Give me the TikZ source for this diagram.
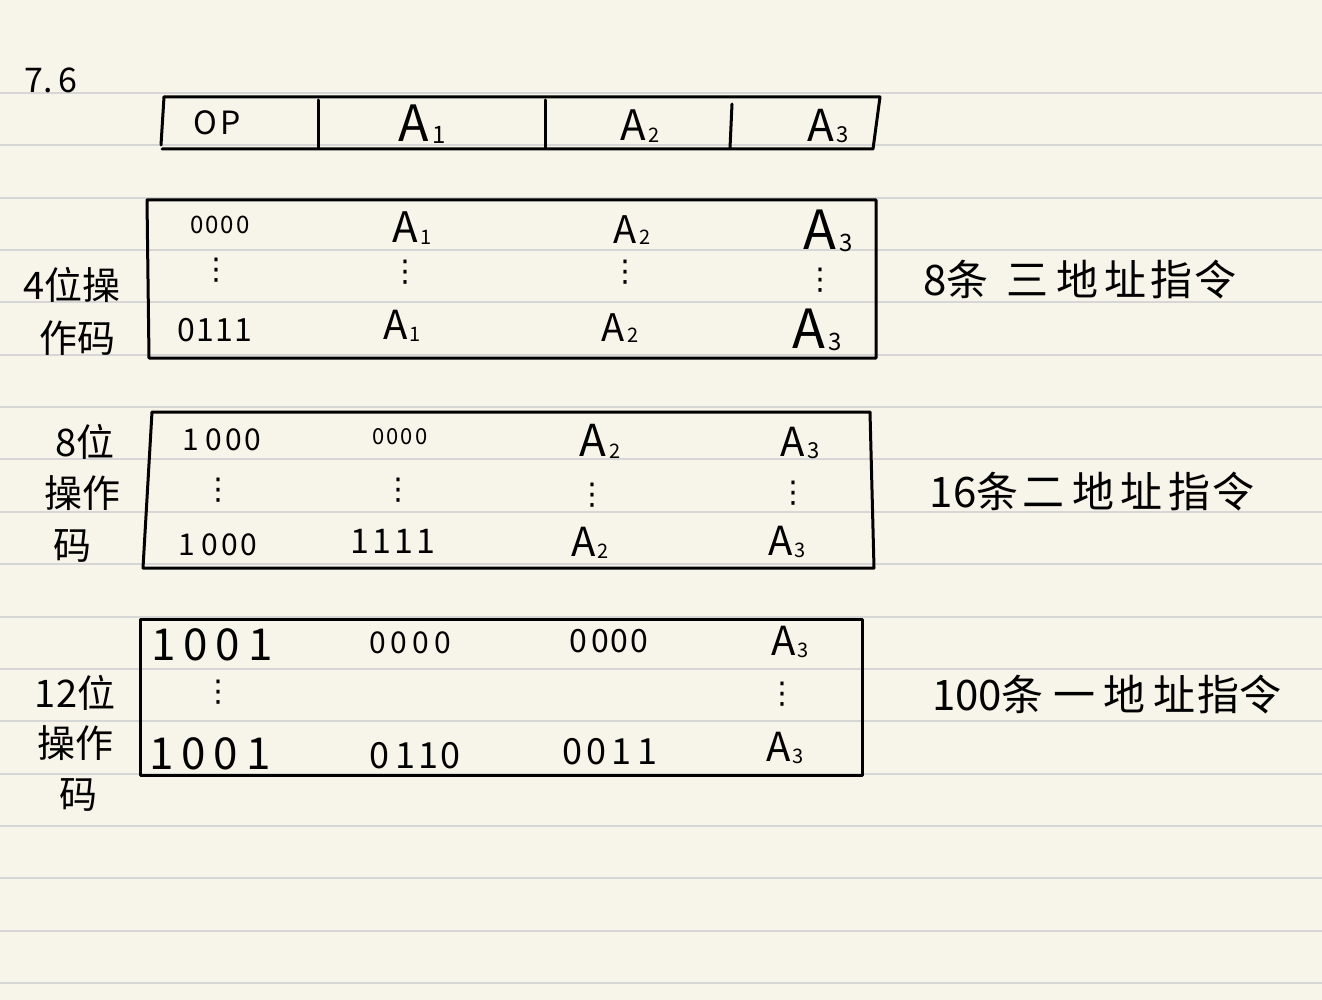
\documentclass[tikz,border=0pt]{standalone}
\usepackage{fontspec}
\setmainfont{Noto Sans CJK SC}
\newfontfamily\dvfont{DejaVu Sans}
\newcommand\fs[1]{\fontsize{#1}{#1}\selectfont}
\newcommand\Ab[3]{{\fs{#1}A\kern0.06em\raisebox{-0.04em}{\fs{#2}#3}}}
\definecolor{paper}{RGB}{247,245,234}
\definecolor{rule}{RGB}{214,214,214}
\tikzset{
  ink/.style={line width=3pt, line join=round, line cap=round, black},
  tx/.style={inner sep=0pt, anchor=center, text=black},
  vd/.style={tx, font=\dvfont\fs{30}},
  lab/.style={tx, font=\fs{38}},
  note/.style={tx, font=\fs{42}},
}
\begin{document}
\begin{tikzpicture}[x=1pt,y=-1pt]
\useasboundingbox (0,0) rectangle (1322,1000);
\fill[paper] (0,0) rectangle (1322,1000);
% ruled lines
\foreach \k in {0,...,17} {
  \draw[rule, line width=2pt] (0,{93+52.35*\k}) -- (1322,{93+52.35*\k});
}
% title
\node[tx, font=\fs{34}] (title) at (51,80) {7.\kern6pt 6};

% format box
\draw[ink] (164,97) -- (880,97) -- (873,149) -- (162,149);
\draw[ink] (164,97) -- (161,145);
\draw[ink] (318,100) -- (318,148);
\draw[ink] (545,100) -- (545,148);
\draw[ink] (732,104) -- (730,148);
\node[tx, font=\fs{32}] (fop) at (217,123) {O\kern4pt P};
\node[tx] (fa1) at (422,124) {\Ab{50}{24}{1}};
\node[tx] (fa2) at (640,126) {\Ab{42}{20}{2}};
\node[tx] (fa3) at (828,126) {\Ab{44}{22}{3}};

% box 1: three-address
\draw[ink] (147,200) -- (876,200) -- (876,358) -- (149,358) -- cycle;
\node[tx, font=\fs{24}] (b1r1c1) at (220,225) {0\kern2pt0\kern2pt0\kern2pt0};
\node[tx] (b1r1c2) at (412,228) {\Ab{42}{20}{1}};
\node[tx] (b1r1c3) at (632,230) {\Ab{38}{20}{2}};
\node[tx] (b1r1c4) at (828,231) {\Ab{54}{24}{3}};
\node[vd] (b1d1) at (216,270) {⋮};
\node[vd] (b1d2) at (405,272) {⋮};
\node[vd] (b1d3) at (625,272) {⋮};
\node[vd] (b1d4) at (820,280) {⋮};
\node[tx, font=\fs{32}] (b1r3c1) at (215,330) {0\kern1pt1\kern1pt1\kern1pt1};
\node[tx] (b1r3c2) at (402,326) {\Ab{40}{20}{1}};
\node[tx] (b1r3c3) at (620,328) {\Ab{38}{20}{2}};
\node[tx] (b1r3c4) at (817,330) {\Ab{54}{24}{3}};
\node[lab] (l1a) at (72,285) {4位操};
\node[lab] (l1b) at (77,338) {作码};
\node[note] (n1) at (1080,280) {8条\kern18pt 三\kern8pt 地\kern6pt 址\kern4pt 指\kern2pt 令};

% box 2: two-address
\draw[ink] (152,412) -- (870,412) -- (874,568) -- (143,568) -- cycle;
\node[tx, font=\fs{30}] (b2r1c1) at (222,440) {1\kern6pt0\kern3pt0\kern3pt0};
\node[tx, font=\fs{22}] (b2r1c2) at (400,437) {0\kern2pt0\kern2pt0\kern2pt0};
\node[tx] (b2r1c3) at (600,441) {\Ab{44}{20}{2}};
\node[tx] (b2r1c4) at (800,443) {\Ab{40}{22}{3}};
\node[vd] (b2d1) at (218,490) {⋮};
\node[vd] (b2d2) at (398,490) {⋮};
\node[vd] (b2d3) at (592,495) {⋮};
\node[vd] (b2d4) at (793,493) {⋮};
\node[tx, font=\fs{30}] (b2r3c1) at (218,545) {1\kern6pt0\kern3pt0\kern3pt0};
\node[tx, font=\fs{34}] (b2r3c2) at (393,541) {1\kern3pt1\kern3pt1\kern3pt1};
\node[tx] (b2r3c3) at (590,543) {\Ab{40}{20}{2}};
\node[tx] (b2r3c4) at (787,542) {\Ab{40}{20}{3}};
\node[lab] (l2a) at (85,442) {8位};
\node[lab] (l2b) at (82,493) {操作};
\node[lab] (l2c) at (72,546) {码};
\node[note] (n2) at (1092,492) {16条\kern4pt 二\kern8pt 地\kern6pt 址\kern6pt 指\kern2pt 令};

% box 3: one-address
\draw[ink] (140,619) -- (862,619) -- (862,775) -- (140,775) -- cycle;
\node[tx, font=\fs{44}] (b3r1c1) at (212,645) {1\kern8pt0\kern8pt0\kern8pt1};
\node[tx, font=\fs{30}] (b3r1c2) at (410,643) {0\kern5pt0\kern5pt0\kern5pt0};
\node[tx, font=\fs{32}] (b3r1c3) at (609,641) {0\kern4pt0\kern2pt0\kern2pt0};
\node[tx] (b3r1c4) at (790,642) {\Ab{40}{20}{3}};
\node[vd] (b3d1) at (218,692) {⋮};
\node[vd] (b3d4) at (782,694) {⋮};
\node[tx, font=\fs{44}] (b3r3c1) at (210,754) {1\kern8pt0\kern8pt0\kern8pt1};
\node[tx, font=\fs{36}] (b3r3c2) at (415,756) {0\kern6pt1\kern4pt1\kern2pt0};
\node[tx, font=\fs{36}] (b3r3c3) at (610,752) {0\kern4pt0\kern6pt1\kern6pt1};
\node[tx] (b3r3c4) at (785,748) {\Ab{40}{20}{3}};
\node[lab] (l3a) at (75,693) {12位};
\node[lab] (l3b) at (75,743) {操作};
\node[lab] (l3c) at (78,795) {码};
\node[note] (n3) at (1107,695) {100条\kern10pt 一\kern8pt 地\kern8pt 址\kern2pt 指令};
\end{tikzpicture}
\end{document}
